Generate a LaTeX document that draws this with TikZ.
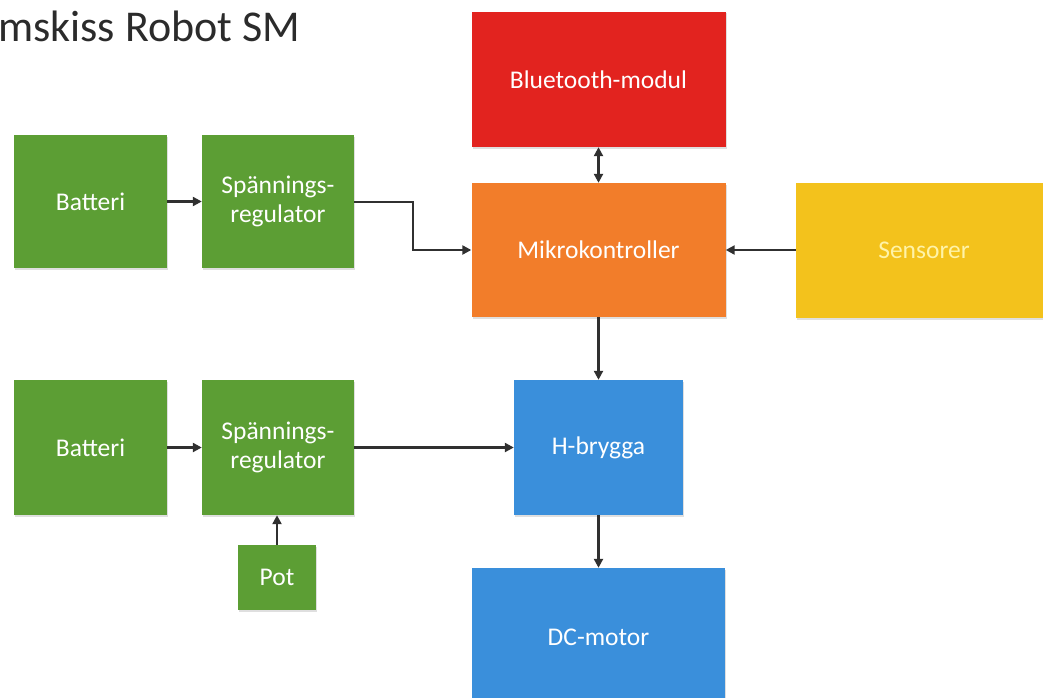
\documentclass[tikz,border=0pt]{standalone}
\usepackage{fontspec}
\setmainfont{Carlito}
\usetikzlibrary{arrows.meta,shadows}
\definecolor{cgreen}{HTML}{5C9E34}
\definecolor{cred}{HTML}{E2231F}
\definecolor{corange}{HTML}{F27D2A}
\definecolor{cyellow}{HTML}{F3C21C}
\definecolor{cblue}{HTML}{3A8FDB}
\definecolor{cline}{HTML}{303030}
\definecolor{ctitle}{HTML}{2B2B2B}
\definecolor{csentext}{HTML}{FFF3A8}
\begin{document}
\begin{tikzpicture}[x=1pt,y=-1pt,
  blk/.style={rectangle, draw=none, inner sep=0pt, align=center, text=white,
    font=\fontsize{25.5}{29}\selectfont,
    drop shadow={opacity=0.25, shadow xshift=1pt, shadow yshift=-1.5pt}},
  green/.style={blk, fill=cgreen},
  conn/.style={draw=cline, line width=2.4pt, -{Triangle[length=9pt,width=9pt]}},
  biconn/.style={draw=cline, line width=2.4pt, {Triangle[length=9pt,width=9pt]}-{Triangle[length=9pt,width=9pt]}}]
\useasboundingbox (0,0) rectangle (1043,698);
\fill[white] (0,0) rectangle (1043,698);
\node[anchor=base west, inner sep=0pt, text=ctitle, font=\fontsize{44}{48}\selectfont] (title) at (-2,42) {mskiss Robot SM};
% green boxes
\node[green, minimum width=153pt, minimum height=133pt] (bat1) at (90.5,201.5) {Batteri};
\node[green, minimum width=152pt, minimum height=133pt] (spa1) at (278,201.5) {Spännings-\\regulator};
\node[green, minimum width=153pt, minimum height=135pt] (bat2) at (90.5,447.5) {Batteri};
\node[green, minimum width=152pt, minimum height=135pt] (spa2) at (278,447.5) {Spännings-\\regulator};
\node[green, minimum width=78pt, minimum height=65pt] (pot) at (277,577.5) {Pot};
% others
\node[blk, fill=cred, minimum width=254pt, minimum height=135pt] (bt) at (598.5,79.5) {Bluetooth-modul};
\node[blk, fill=corange, minimum width=254pt, minimum height=134pt] (mk) at (598.5,250) {Mikrokontroller};
\node[blk, fill=cyellow, text=csentext, minimum width=256pt, minimum height=135pt] (sen) at (924,250.5) {Sensorer};
\node[blk, fill=cblue, minimum width=169pt, minimum height=135pt] (hb) at (598.5,447.5) {H-brygga};
\node[blk, fill=cblue, minimum width=253pt, minimum height=138pt] (dc) at (598.5,637) {DC-motor};
% connectors
\coordinate (b1) at (413,202);
\coordinate (b2) at (413,250);
\draw[conn] (bat1.east) -- (spa1.west);
\draw[conn] (spa1.east |- b1) -- (b1) -- (b2) -- (mk.west);
\draw[conn] (sen.west |- mk.east) -- (mk.east);
\draw[biconn] (bt.south) -- (mk.north);
\draw[conn] (mk.south) -- (hb.north);
\draw[conn] (bat2.east) -- (spa2.west);
\draw[conn] (spa2.east) -- (hb.west);
\draw[conn] (pot.north) -- (pot.north |- spa2.south);
\draw[conn] (hb.south) -- (dc.north);
\end{tikzpicture}
\end{document}
